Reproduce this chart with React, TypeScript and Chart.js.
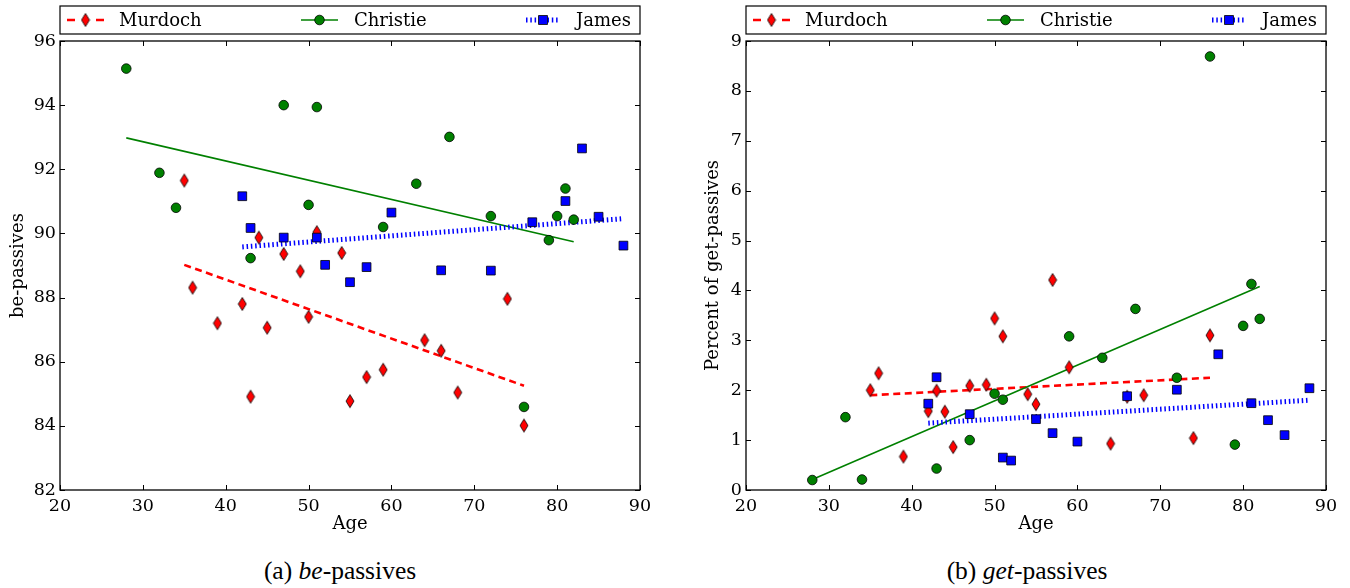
import React, { useEffect, useRef } from "react";
import { Chart, registerables } from "chart.js";

Chart.register(...registerables);
Chart.defaults.color = "#000";

const RED = "#ff0000";
const GREEN = "#008000";
const BLUE = "#0000ff";

const seriesNames = ["Murdoch", "Christie", "James"];

// Speaker ages
const murdochAges = [35, 36, 39, 42, 43, 44, 45, 47, 49, 50, 51, 54, 55, 57, 59, 64, 66, 68, 74, 76];
const christieAges = [28, 32, 34, 43, 47, 50, 51, 59, 63, 67, 72, 76, 79, 80, 81, 82];
const jamesAges = [42, 43, 47, 51, 52, 55, 57, 60, 66, 72, 77, 81, 83, 85, 88];

// be-passives (percent)
const murdochBe = [91.65, 88.31, 87.2, 87.8, 84.91, 89.87, 87.06, 89.36, 88.82, 87.4, 90.04, 89.39, 84.77, 85.52, 85.75, 86.67, 86.34, 85.04, 87.96, 84.01];
const christieBe = [95.14, 91.89, 90.8, 89.23, 94.0, 90.89, 93.94, 90.2, 91.55, 93.01, 90.54, 84.59, 89.79, 90.54, 91.4, 90.43];
const jamesBe = [91.16, 90.17, 89.87, 89.87, 89.02, 88.48, 88.95, 90.65, 88.85, 88.84, 90.35, 91.01, 92.65, 90.52, 89.62];

// get-passives (percent)
const murdochGet = [2.0, 2.34, 0.67, 1.58, 1.99, 1.57, 0.86, 2.09, 2.11, 3.44, 3.08, 1.92, 1.72, 4.21, 2.46, 0.93, 1.87, 1.9, 1.04, 3.1];
const christieGet = [0.2, 1.46, 0.21, 0.43, 1.0, 1.93, 1.81, 3.08, 2.65, 3.63, 2.25, 8.69, 0.91, 3.29, 4.13, 3.43];
const jamesGet = [1.73, 2.26, 1.52, 0.65, 0.59, 1.42, 1.14, 0.97, 1.88, 2.01, 2.72, 1.74, 1.4, 1.1, 2.04];

// Linear trend lines (end points)
const murdochFitAges = [35, 76];
const christieFitAges = [28, 82];
const jamesFitAges = [42, 88];
const murdochFitBe = [89.02, 85.25];
const christieFitBe = [92.98, 89.74];
const jamesFitBe = [89.58, 90.46];
const murdochFitGet = [1.9, 2.25];
const christieFitGet = [0.21, 4.08];
const jamesFitGet = [1.34, 1.8];

// Axis ranges
const ageRange = [20, 90];
const ageStep = 10;
const beRange = [82, 96];
const beStep = 2;
const getRange = [0, 9];
const getStep = 1;

const SERIF = '"DejaVu Serif", "Liberation Serif", serif';
const TICK_FONT = { family: SERIF, size: 17.5 };
const TITLE_FONT = { family: SERIF, size: 18 };

function makeDiamond(): HTMLCanvasElement {
  const c = document.createElement("canvas");
  c.width = 10;
  c.height = 16;
  const g = c.getContext("2d")!;
  g.beginPath();
  g.moveTo(5, 1.5);
  g.lineTo(9, 8);
  g.lineTo(5, 14.5);
  g.lineTo(1, 8);
  g.closePath();
  g.fillStyle = RED;
  g.fill();
  g.lineWidth = 0.8;
  g.strokeStyle = "#000";
  g.stroke();
  return c;
}

const pts = (xs: number[], ys: number[]) => xs.map((x, i) => ({ x, y: ys[i] }));

// Box around the plot area with inward ticks on all four sides
const framePlugin = {
  id: "frameTicks",
  afterDatasetsDraw(chart: any) {
    const { ctx, chartArea: a, scales } = chart;
    ctx.save();
    ctx.strokeStyle = "#000";
    ctx.lineWidth = 1;
    const len = 5;
    ctx.beginPath();
    scales.x.ticks.forEach((t: any) => {
      const px = Math.round(scales.x.getPixelForValue(t.value)) + 0.5;
      ctx.moveTo(px, a.bottom);
      ctx.lineTo(px, a.bottom - len);
      ctx.moveTo(px, a.top);
      ctx.lineTo(px, a.top + len);
    });
    scales.y.ticks.forEach((t: any) => {
      const py = Math.round(scales.y.getPixelForValue(t.value)) + 0.5;
      ctx.moveTo(a.left, py);
      ctx.lineTo(a.left + len, py);
      ctx.moveTo(a.right, py);
      ctx.lineTo(a.right - len, py);
    });
    ctx.stroke();
    ctx.lineWidth = 1.3;
    ctx.strokeRect(a.left, a.top, a.right - a.left, a.bottom - a.top);
    ctx.restore();
  },
};

// Legend box spanning the plot width, three columns
const legendPlugin = {
  id: "boxLegend",
  afterDraw(chart: any) {
    const { ctx, chartArea: a } = chart;
    const diamond = chart.options.plugins.boxLegend.diamond as HTMLCanvasElement;
    const top = 6;
    const h = 28;
    const cy = top + h / 2;
    ctx.save();
    ctx.fillStyle = "#fff";
    ctx.fillRect(a.left, top, a.right - a.left, h);
    ctx.strokeStyle = "#000";
    ctx.lineWidth = 1.2;
    ctx.strokeRect(a.left, top, a.right - a.left, h);

    const handleX = [a.left + 7, a.left + 241, a.left + 466];
    const textX = [a.left + 59, a.left + 294, a.left + 516];

    // Murdoch: dashed red with diamond
    let x0 = handleX[0];
    ctx.strokeStyle = RED;
    ctx.lineWidth = 2.5;
    ctx.beginPath();
    ctx.moveTo(x0, cy);
    ctx.lineTo(x0 + 8, cy);
    ctx.moveTo(x0 + 29, cy);
    ctx.lineTo(x0 + 37, cy);
    ctx.stroke();
    ctx.drawImage(diamond, x0 + 18.5 - diamond.width / 2, cy - diamond.height / 2);

    // Christie: solid green with circle
    x0 = handleX[1];
    ctx.strokeStyle = GREEN;
    ctx.lineWidth = 1.6;
    ctx.beginPath();
    ctx.moveTo(x0, cy);
    ctx.lineTo(x0 + 37, cy);
    ctx.stroke();
    ctx.beginPath();
    ctx.arc(x0 + 18.5, cy, 4.8, 0, Math.PI * 2);
    ctx.fillStyle = GREEN;
    ctx.fill();
    ctx.strokeStyle = "#000";
    ctx.lineWidth = 0.8;
    ctx.stroke();

    // James: dotted blue with square
    x0 = handleX[2];
    ctx.strokeStyle = BLUE;
    ctx.lineWidth = 5;
    ctx.setLineDash([1.5, 2.8]);
    ctx.beginPath();
    ctx.moveTo(x0, cy);
    ctx.lineTo(x0 + 34, cy);
    ctx.stroke();
    ctx.setLineDash([]);
    ctx.fillStyle = BLUE;
    ctx.fillRect(x0 + 17 - 4.4, cy - 4.4, 8.8, 8.8);
    ctx.strokeStyle = "#000";
    ctx.lineWidth = 0.8;
    ctx.strokeRect(x0 + 17 - 4.4, cy - 4.4, 8.8, 8.8);

    ctx.fillStyle = "#000";
    ctx.font = `${TITLE_FONT.size}px ${TITLE_FONT.family}`;
    ctx.textBaseline = "middle";
    ctx.textAlign = "left";
    seriesNames.forEach((n, i) => ctx.fillText(n, textX[i], cy + 1));
    ctx.restore();
  },
};

type PanelProps = {
  murdoch: number[];
  christie: number[];
  james: number[];
  murdochFit: number[];
  christieFit: number[];
  jamesFit: number[];
  yRange: number[];
  yStep: number;
  yTitle: string;
  yAxisWidth: number;
  yTitlePad: number;
  rightPad: number;
};

function Panel(p: PanelProps) {
  const ref = useRef<HTMLCanvasElement | null>(null);
  useEffect(() => {
    const diamond = makeDiamond();
    const chart = new Chart(ref.current!, {
      type: "scatter",
      data: {
        datasets: [
          {
            label: seriesNames[0],
            data: pts(murdochAges, p.murdoch),
            pointStyle: diamond as any,
            pointRadius: 6,
            order: 2,
          },
          {
            label: seriesNames[1],
            data: pts(christieAges, p.christie),
            pointStyle: "circle",
            pointRadius: 4.8,
            backgroundColor: GREEN,
            borderColor: "#000",
            borderWidth: 0.8,
            order: 1,
          },
          {
            label: seriesNames[2],
            data: pts(jamesAges, p.james),
            pointStyle: "rect",
            pointRadius: 6.2,
            backgroundColor: BLUE,
            borderColor: "#000",
            borderWidth: 0.8,
            order: 0,
          },
          {
            label: seriesNames[0] + " trend",
            data: pts(murdochFitAges, p.murdochFit),
            showLine: true,
            pointRadius: 0,
            borderColor: RED,
            borderWidth: 2.6,
            borderDash: [7, 4.5],
            order: 5,
          },
          {
            label: seriesNames[1] + " trend",
            data: pts(christieFitAges, p.christieFit),
            showLine: true,
            pointRadius: 0,
            borderColor: GREEN,
            borderWidth: 1.6,
            order: 4,
          },
          {
            label: seriesNames[2] + " trend",
            data: pts(jamesFitAges, p.jamesFit),
            showLine: true,
            pointRadius: 0,
            borderColor: BLUE,
            borderWidth: 5,
            borderDash: [1.5, 2.8],
            order: 3,
          },
        ] as any,
      },
      options: {
        responsive: false,
        animation: false,
        events: [],
        layout: { padding: { top: 41, left: 0, right: p.rightPad, bottom: 5 } },
        plugins: {
          legend: { display: false },
          tooltip: { enabled: false },
          boxLegend: { diamond },
        } as any,
        scales: {
          x: {
            type: "linear",
            min: ageRange[0],
            max: ageRange[1],
            grid: { display: false, drawTicks: false },
            border: { display: false },
            ticks: { stepSize: ageStep, autoSkip: false, padding: 6, font: TICK_FONT, color: "#000" },
            title: { display: true, text: "Age", font: TITLE_FONT, color: "#000", padding: { top: 0, bottom: 5 } },
            afterFit: (s: any) => {
              s.height = 50;
            },
          },
          y: {
            type: "linear",
            min: p.yRange[0],
            max: p.yRange[1],
            grid: { display: false, drawTicks: false },
            border: { display: false },
            ticks: { stepSize: p.yStep, autoSkip: false, padding: 4, font: TICK_FONT, color: "#000" },
            title: { display: true, text: p.yTitle, font: TITLE_FONT, color: "#000", padding: { top: p.yTitlePad, bottom: 0 } },
            afterFit: (s: any) => {
              s.width = p.yAxisWidth;
            },
          },
        } as any,
      },
      plugins: [framePlugin, legendPlugin],
    });
    return () => chart.destroy();
  }, []);
  return <canvas ref={ref} width={675} height={545} style={{ width: 675, height: 545, display: "block" }} />;
}

const captionStyle: React.CSSProperties = {
  position: "absolute",
  top: 556,
  width: 300,
  textAlign: "center",
  fontFamily: '"Liberation Serif", "Times New Roman", serif',
  fontSize: 25.5,
  lineHeight: "30px",
  color: "#000",
};

export default function App() {
  return (
    <div style={{ position: "absolute", left: 0, top: 0, width: 1350, height: 588, background: "#fff" }}>
      <div style={{ position: "absolute", left: 0, top: 0 }}>
        <Panel
          murdoch={murdochBe}
          christie={christieBe}
          james={jamesBe}
          murdochFit={murdochFitBe}
          christieFit={christieFitBe}
          jamesFit={jamesFitBe}
          yRange={beRange}
          yStep={beStep}
          yTitle="be-passives"
          yAxisWidth={60}
          yTitlePad={8}
          rightPad={35}
        />
      </div>
      <div style={{ position: "absolute", left: 675, top: 0 }}>
        <Panel
          murdoch={murdochGet}
          christie={christieGet}
          james={jamesGet}
          murdochFit={murdochFitGet}
          christieFit={christieFitGet}
          jamesFit={jamesFitGet}
          yRange={getRange}
          yStep={getStep}
          yTitle="Percent of get-passives"
          yAxisWidth={71}
          yTitlePad={28}
          rightPad={24}
        />
      </div>
      <div style={{ ...captionStyle, left: 340 - 150 }}>
        (a) <i>be</i>-passives
      </div>
      <div style={{ ...captionStyle, left: 1027 - 150 }}>
        (b) <i>get</i>-passives
      </div>
    </div>
  );
}
